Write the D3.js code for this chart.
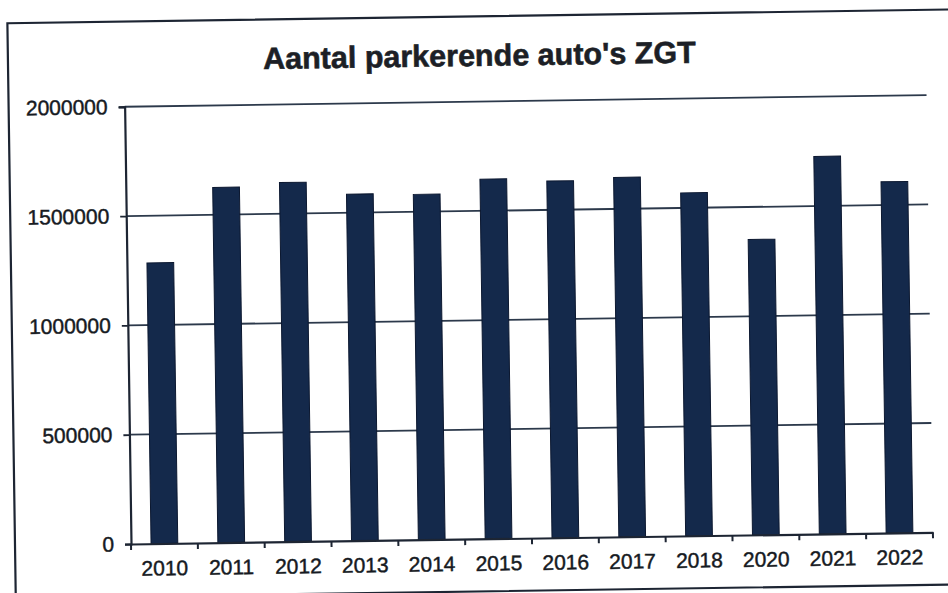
<!DOCTYPE html>
<html>
<head>
<meta charset="utf-8">
<script src="https://cdn.jsdelivr.net/npm/d3@7"></script>
<style>
    html, body { margin: 0; padding: 0; background: #fff; }
    svg { display: block; }
    .axis text { font-family: "Liberation Sans", Arial, sans-serif; font-size: 21px; fill: #161a22; stroke: #161a22; stroke-width: 0.45px; }
    .chart-title { font-family: "Liberation Sans", Arial, sans-serif; font-weight: bold; font-size: 30.5px; fill: #1c1f26; stroke: #1c1f26; stroke-width: 0.6px; }
</style>
</head>
<body>
<div id="chart"></div>
<script>
// Data
const years = ['2010', '2011', '2012', '2013', '2014', '2015', '2016', '2017', '2018', '2020', '2021', '2022'];
const cars = [1284000, 1625000, 1643000, 1585000, 1580000, 1645000, 1632000, 1644000, 1569000, 1351000, 1727000, 1606000];
const yTicks = [0, 500000, 1000000, 1500000, 2000000];
const title = "Aantal parkerende auto's ZGT";

class BarChart {

    /**
    * @param {D3 selection} _parent
    * @param {Object} _margin
    */
    constructor(_parent, _margin) {
        this.parent = _parent;
        this.margin = _margin;
        this.width = 948;
        this.height = 593;
        this.innerWidth = 802;
        this.innerHeight = 437.3;
        this.tilt = -0.836; // the scan is a little crooked

        this.svg = this.parent.append('svg')
            .attr('width', this.width)
            .attr('height', this.height);

        // everything sits in one group that gets the scan's tilt
        this.root = this.svg.append('g')
            .attr('transform', `rotate(${this.tilt},${this.margin.left},${this.margin.top + this.innerHeight})`);

        this.chart = this.root.append('g')
            .attr('transform', `translate(${this.margin.left},${this.margin.top})`);

        this.populate();
    }

    populate() {
        // frame around the whole chart
        this.root.append('rect')
            .attr('x', 15).attr('y', 21.5)
            .attr('width', 960).attr('height', 575)
            .attr('fill', 'none')
            .attr('stroke', '#1d2533')
            .attr('stroke-width', 2.2);

        this.root.append('text')
            .attr('class', 'chart-title')
            .attr('x', 486.5)
            .attr('y', 71)
            .attr('text-anchor', 'middle')
            .text(title);

        const xScale = d3.scaleBand()
            .domain(years)
            .range([0, this.innerWidth])
            .paddingInner(0.6)
            .paddingOuter(0.3);

        const yScale = d3.scaleLinear()
            .domain([0, 2000000])
            .range([this.innerHeight, 0]);

        // gridlines
        this.chart.append('g').selectAll('line.grid').data(yTicks.slice(1)).join('line')
            .attr('class', 'grid')
            .attr('x1', 0).attr('x2', this.innerWidth)
            .attr('y1', d => yScale(d)).attr('y2', d => yScale(d))
            .attr('stroke', '#2c394b')
            .attr('stroke-width', 1.8);

        // bars
        this.chart.selectAll('rect.bar').data(years).join('rect')
            .attr('class', 'bar')
            .attr('x', d => xScale(d))
            .attr('width', xScale.bandwidth())
            .attr('y', (d, i) => yScale(cars[i]))
            .attr('height', (d, i) => this.innerHeight - yScale(cars[i]))
            .attr('fill', '#14294b')
            .attr('stroke', '#0c1830')
            .attr('stroke-width', 1);

        const yAxis = d3.axisLeft(yScale)
            .tickValues(yTicks)
            .tickFormat(d => d.toString())
            .tickSizeOuter(0)
            .tickSize(6)
            .tickPadding(11);

        this.chart.append('g')
            .attr('class', 'axis y-axis')
            .call(yAxis);

        // category labels under the bars, no ticks at the centres
        const xAxis = d3.axisBottom(xScale)
            .tickSize(0)
            .tickSizeOuter(0)
            .tickPadding(17);

        const xAxisG = this.chart.append('g')
            .attr('class', 'axis x-axis')
            .attr('transform', `translate(0,${this.innerHeight})`)
            .call(xAxis);

        // Excel style ticks between the categories
        const step = xScale.step();
        const edges = years.map(d => xScale(d) - (step - xScale.bandwidth()) / 2).concat([this.innerWidth]);
        xAxisG.selectAll('line.edge').data(edges).join('line')
            .attr('class', 'edge')
            .attr('x1', d => d).attr('x2', d => d)
            .attr('y1', 0).attr('y2', 6)
            .attr('stroke', '#1d2533')
            .attr('stroke-width', 2);

        this.chart.selectAll('.axis path.domain')
            .attr('stroke', '#1d2533')
            .attr('stroke-width', 2.2);
        this.chart.selectAll('.y-axis .tick line')
            .attr('stroke', '#1d2533')
            .attr('stroke-width', 1.8);
    }
}

const barChart = new BarChart(d3.select('#chart'), {top: 106.7, right: 15, bottom: 49, left: 131});
</script>
</body>
</html>
